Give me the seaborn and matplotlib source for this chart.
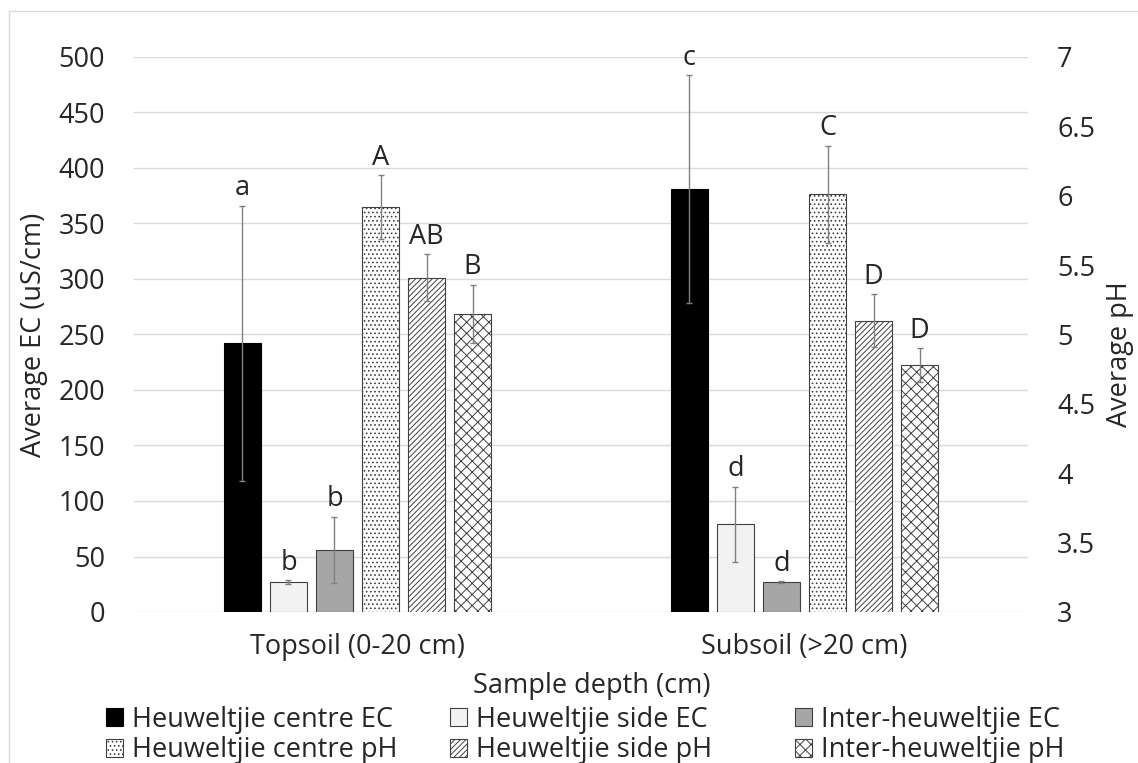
import numpy as np
import pandas as pd
import matplotlib
matplotlib.use("Agg")
import matplotlib.pyplot as plt
import seaborn as sns
from matplotlib.patches import Patch
from matplotlib.lines import Line2D

# ---------------- data ----------------
depths = ["Topsoil (0-20 cm)", "Subsoil (>20 cm)"]
series = ["Heuweltjie centre EC", "Heuweltjie side EC", "Inter-heuweltjie EC",
          "Heuweltjie centre pH", "Heuweltjie side pH", "Inter-heuweltjie pH"]
ec_series = series[:3]
ph_series = series[3:]

ec_topsoil = [242, 27, 56]
ec_topsoil_err = [124, 1.5, 30]
ec_subsoil = [381, 79, 27]
ec_subsoil_err = [102.5, 34, 1]

ph_topsoil = [5.92, 5.41, 5.15]
ph_topsoil_err = [0.23, 0.17, 0.21]
ph_subsoil = [6.01, 5.10, 4.78]
ph_subsoil_err = [0.35, 0.19, 0.12]

letters_topsoil = ["a", "b", "b", "A", "AB", "B"]
letters_subsoil = ["c", "d", "d", "C", "D", "D"]

ec_ticks = np.arange(0, 501, 50)
ph_ticks = np.arange(3, 7.01, 0.5)

# ---------------- tables ----------------
rows = []
for d, vals, errs, lets in [(depths[0], ec_topsoil + ph_topsoil, ec_topsoil_err + ph_topsoil_err, letters_topsoil),
                            (depths[1], ec_subsoil + ph_subsoil, ec_subsoil_err + ph_subsoil_err, letters_subsoil)]:
    for s, v, e, l in zip(series, vals, errs, lets):
        rows.append({"depth": d, "series": s, "value": v, "err": e, "letter": l})
df = pd.DataFrame(rows)
df_ec = df[df["series"].isin(ec_series)]
df_ph = df[df["series"].isin(ph_series)]

# ---------------- style ----------------
sns.set_style("white")
FONT = 19.5
plt.rcParams["font.family"] = ["Open Sans", "DejaVu Sans"]
plt.rcParams["font.size"] = FONT
plt.rcParams["hatch.linewidth"] = 0.7

fill = {series[0]: "#000000", series[1]: "#f2f2f2", series[2]: "#a6a6a6",
        series[3]: "#ffffff", series[4]: "#ffffff", series[5]: "#ffffff"}
edge = {series[0]: "#000000", series[1]: "#404040", series[2]: "#404040",
        series[3]: "#404040", series[4]: "#404040", series[5]: "#404040"}
hatch = {series[0]: None, series[1]: None, series[2]: None,
         series[3]: "....", series[4]: "//////", series[5]: "xxx"}

W, H = 1138, 763
fig = plt.figure(figsize=(W / 100, H / 100), dpi=100)
L, R, T, B = 134, 1028, 57, 612
ax = fig.add_axes([L / W, 1 - B / H, (R - L) / W, (B - T) / H])
ax2 = ax.twinx()

TOTAL_W = 0.618
common = dict(x="depth", y="value", hue="series", hue_order=series, order=depths,
              palette=fill, saturation=1, errorbar=None, width=TOTAL_W, gap=0.2,
              legend=False)
sns.barplot(data=df_ec, ax=ax, **common)
sns.barplot(data=df_ph, ax=ax2, **common)

step = TOTAL_W / len(series)


def style_and_annotate(axis, data):
    xs, ys, es = [], [], []
    for p in axis.patches:
        h = p.get_height()
        if not np.isfinite(h):
            continue
        xc = p.get_x() + p.get_width() / 2
        ci = int(round(xc))
        hi = int(round((xc - ci) / step + (len(series) - 1) / 2))
        s = series[hi]
        p.set_facecolor(fill[s])
        p.set_edgecolor(edge[s])
        p.set_linewidth(0.8)
        if hatch[s]:
            p.set_hatch(hatch[s])
        rec = data[(data["depth"] == depths[ci]) & (data["series"] == s)].iloc[0]
        xs.append(xc)
        ys.append(rec["value"])
        es.append(rec["err"])
        axis.annotate(rec["letter"], (xc, rec["value"] + rec["err"]),
                      xytext=(0, 7.5), textcoords="offset points",
                      ha="center", va="baseline", fontsize=FONT,
                      annotation_clip=False, zorder=5)
    axis.errorbar(xs, ys, yerr=es, fmt="none", ecolor="#808080",
                  elinewidth=1.0, capsize=2.5, capthick=1.0, zorder=4)


style_and_annotate(ax, df_ec)
style_and_annotate(ax2, df_ph)

# axes limits & ticks
ax.set_xlim(-0.5, 1.5)
ax.set_ylim(0, 500)
ax2.set_ylim(3, 7)
ax.set_yticks(ec_ticks)
ax.set_yticklabels([f"{t:g}" for t in ec_ticks])
ax2.set_yticks(ph_ticks)
ax2.set_yticklabels([f"{t:g}" for t in ph_ticks])
ax.set_xticks(range(len(depths)))
ax.set_xticklabels(depths)

ax.grid(axis="y", color="#d9d9d9", linewidth=1.0)
ax.grid(axis="x", visible=False)
ax.set_axisbelow(True)
ax2.grid(False)
for a in (ax, ax2):
    for sp in a.spines.values():
        sp.set_visible(False)
ax.tick_params(axis="y", length=0, pad=21, labelsize=FONT)
ax2.tick_params(axis="y", length=0, pad=21, labelsize=FONT)
ax.tick_params(axis="x", length=0, pad=15, labelsize=FONT)
ax2.tick_params(axis="x", length=0)

ax.set_xlabel("Sample depth (cm)", fontsize=FONT)
ax.xaxis.label.set_va("center")
ax.xaxis.set_label_coords((591.5 - L) / (R - L), (B - 686) / (B - T))
ax.set_ylabel("Average EC (uS/cm)", fontsize=FONT)
ax.yaxis.label.set_va("center")
ax.yaxis.set_label_coords((34 - L) / (R - L), 0.5)
ax2.set_ylabel("Average pH", fontsize=FONT, rotation=90)
ax2.yaxis.label.set_va("center")
ax2.yaxis.set_label_coords((1120 - L) / (R - L), (B - 354) / (B - T))

# legends: three fixed-width columns (EC row on top, pH row below)
col_x = [106, 450, 795]
for i in range(3):
    handles = []
    for s in (ec_series[i], ph_series[i]):
        handles.append(Patch(facecolor=fill[s], edgecolor=edge[s], hatch=hatch[s], linewidth=0.8, label=s))
    fig.legend(handles=handles, loc="center left",
               bbox_to_anchor=(col_x[i] / W, 1 - 735 / H),
               frameon=False, fontsize=FONT, borderpad=0, borderaxespad=0,
               handlelength=0.62, handleheight=0.62, handletextpad=0.35,
               labelspacing=0.1)

# chart-area border (top and left edges visible)
fig.add_artist(Line2D([8.5 / W, 8.5 / W], [0, 1 - 11 / H], transform=fig.transFigure,
                      color="#d9d9d9", linewidth=1.0))
fig.add_artist(Line2D([8.5 / W, 1], [1 - 11 / H, 1 - 11 / H], transform=fig.transFigure,
                      color="#d9d9d9", linewidth=1.0))

fig.savefig("out.png", dpi=100, facecolor="white")
